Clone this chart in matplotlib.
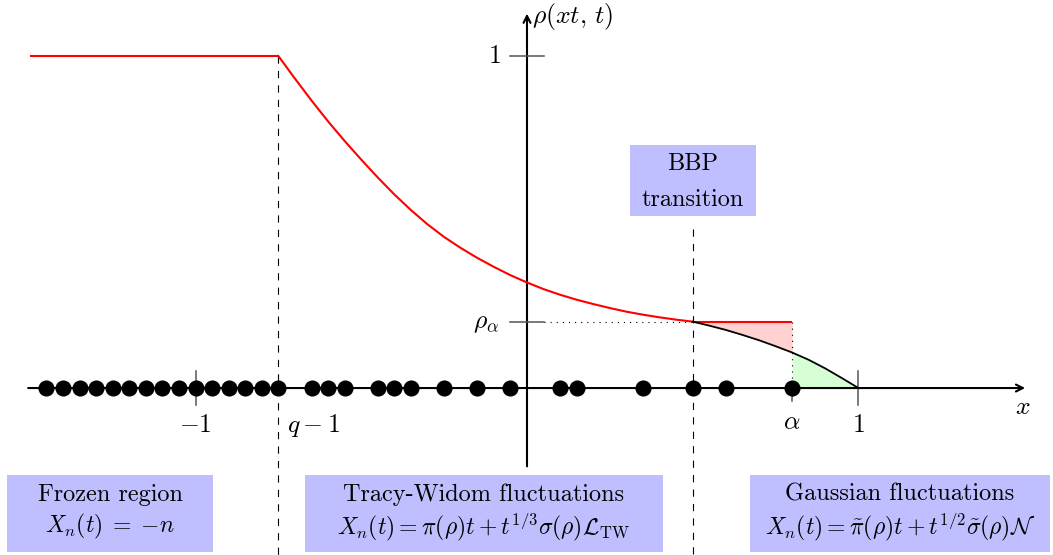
import matplotlib
matplotlib.use("Agg")
import matplotlib.pyplot as plt
from matplotlib.patches import Rectangle

plt.rcParams['mathtext.fontset'] = 'cm'
plt.rcParams['lines.scale_dashes'] = False

# ---- data ----
q = 0.25
alpha = 0.8
rho_alpha = 0.2

frozen_x = [-1.5, q - 1]
frozen_y = [1.0, 1.0]

red_x = [-0.75, -0.70, -0.65, -0.60, -0.55, -0.50, -0.45, -0.40, -0.35, -0.30,
         -0.25, -0.20, -0.15, -0.10, -0.05, 0.00, 0.05, 0.10, 0.15, 0.20,
         0.25, 0.30, 0.35, 0.40, 0.45, 0.50]
red_y = [1.000, 0.932, 0.866, 0.803, 0.744, 0.688, 0.634, 0.583, 0.536, 0.493,
         0.455, 0.422, 0.392, 0.365, 0.340, 0.318, 0.298, 0.281, 0.266, 0.253,
         0.241, 0.230, 0.221, 0.213, 0.206, 0.200]

black_x = [0.5, 0.55, 0.6, 0.65, 0.7, 0.75, 0.8, 0.85, 0.9, 0.95, 1.0]
black_y = [0.200, 0.188, 0.175, 0.160, 0.144, 0.126, 0.107, 0.085, 0.059, 0.030, 0.0]

particles = [-1.45, -1.4, -1.35, -1.3, -1.25, -1.2, -1.15, -1.1, -1.05, -1.0,
             -0.95, -0.9, -0.85, -0.8, -0.75, -0.65, -0.6, -0.55, -0.45, -0.4,
             -0.35, -0.25, -0.15, -0.05, 0.1, 0.15, 0.35, 0.5, 0.6, 0.8]

x_ticks = [-1, 1]
x_tick_labels = [r'$-1$', r'$1$']

# ---- figure ----
fig = plt.figure(figsize=(10.53, 5.55), dpi=100)
ax = fig.add_axes([0, 0, 1, 1])
ax.set_xlim(-1.590, 1.587)
ax.set_ylim(-0.503, 1.169)
ax.axis('off')

box_col = '#BFBFFF'
fs = 18.5
fs_box = 17.5
fs_box_math = 17

# fills
bx1 = [x for x in black_x if x <= alpha]
by1 = [y for x, y in zip(black_x, black_y) if x <= alpha]
bx2 = [x for x in black_x if x >= alpha]
by2 = [y for x, y in zip(black_x, black_y) if x >= alpha]
ax.fill_between(bx1, by1, [rho_alpha] * len(bx1), color='#FFD1D1', lw=0, zorder=1)
ax.fill_between(bx2, by2, [0] * len(bx2), color='#D6FFD6', lw=0, zorder=1)

# dashed vertical lines
dash = (0, (5.2, 5.2))
ax.plot([q - 1, q - 1], [1.0, -0.52], color='black', lw=0.8,
        linestyle=dash, zorder=2)
ax.plot([0.5, 0.5], [0.48, -0.52], color='black', lw=0.8,
        linestyle=dash, zorder=2)

# dotted lines
dot = (0, (0.8, 3.6))
ax.plot([0.05, 0.5], [rho_alpha, rho_alpha], color='black', lw=0.8,
        linestyle=dot, zorder=2)
ax.plot([alpha, alpha], [rho_alpha, -0.03], color='black', lw=0.8,
        linestyle=dot, zorder=2)

# axes
ax.annotate('', xy=(1.503, 0), xytext=(-1.505, 0),
            arrowprops=dict(arrowstyle='->,head_length=0.5,head_width=0.25',
                            lw=1.5, color='black', shrinkA=0, shrinkB=0),
            zorder=3)
ax.annotate('', xy=(0, 1.128), xytext=(0, -0.236),
            arrowprops=dict(arrowstyle='->,head_length=0.5,head_width=0.25',
                            lw=1.5, color='black', shrinkA=0, shrinkB=0),
            zorder=3)

# ticks
tick_col = '#555555'
for xt in x_ticks:
    ax.plot([xt, xt], [-0.05, 0.05], color=tick_col, lw=1.1, zorder=3)
ax.plot([alpha, alpha], [-0.04, 0.0], color=tick_col, lw=1.1, zorder=3)
ax.plot([-0.05, 0.05], [1.0, 1.0], color=tick_col, lw=1.1, zorder=3)
ax.plot([-0.05, 0.05], [rho_alpha, rho_alpha], color=tick_col, lw=1.1, zorder=3)

# curves
ax.plot(frozen_x, frozen_y, color='red', lw=1.5, zorder=4, solid_capstyle='butt')
ax.plot(red_x, red_y, color='red', lw=1.5, zorder=4)
ax.plot([0.5, alpha], [rho_alpha, rho_alpha], color='red', lw=1.5, zorder=4,
        solid_capstyle='butt')
ax.plot(black_x, black_y, color='black', lw=1.3, zorder=4)

# particles
ax.plot(particles, [0] * len(particles), 'o', color='black', ms=11.6,
        mec='black', mew=0, zorder=5)

# axis labels
for xt, lab in zip(x_ticks, x_tick_labels):
    ax.text(xt, -0.112, lab, ha='center', va='center', fontsize=fs)
ax.text(-0.724, -0.112, r'$q-1$', ha='left', va='center', fontsize=fs)
ax.text(alpha, -0.103, r'$\alpha$', ha='center', va='center', fontsize=fs)
ax.text(-0.078, 1.0, r'$1$', ha='right', va='center', fontsize=fs)
ax.text(-0.085, rho_alpha, r'$\rho_\alpha$', ha='right', va='center', fontsize=fs)
ax.text(0.016, 1.12, r'$\rho(xt,\,t)$', ha='left', va='center', fontsize=fs)
ax.text(1.497, -0.058, r'$x$', ha='center', va='center', fontsize=fs)

# boxes
def box(x0, x1, y0, y1, lines, ys):
    ax.add_patch(Rectangle((x0, y0), x1 - x0, y1 - y0, facecolor=box_col,
                           edgecolor='none', zorder=6))
    xc = (x0 + x1) / 2
    for t, yy in zip(lines, ys):
        size = fs_box_math if t.startswith('$') else fs_box
        ax.text(xc, yy, t, ha='center', va='center', fontsize=size, zorder=7,
                family='cmr10')

box(-1.569, -0.947, -0.494, -0.262,
    ['Frozen region', r'$X_n(t)\;=\;{-n}$'], [-0.322, -0.418])
box(-0.670, 0.410, -0.494, -0.262,
    ['Tracy-Widom fluctuations',
     r'$X_n(t) = \pi(\rho)t + t^{1/3}\sigma(\rho)\mathcal{L}_{\mathrm{TW}}$'],
    [-0.322, -0.418])
box(0.673, 1.578, -0.494, -0.262,
    ['Gaussian fluctuations',
     r'$X_n(t) = \tilde{\pi}(\rho)t + t^{1/2}\tilde{\sigma}(\rho)\mathcal{N}$'],
    [-0.322, -0.418])
box(0.311, 0.691, 0.518, 0.732, ['BBP', 'transition'], [0.676, 0.568])

fig.savefig('out.png', dpi=100)
